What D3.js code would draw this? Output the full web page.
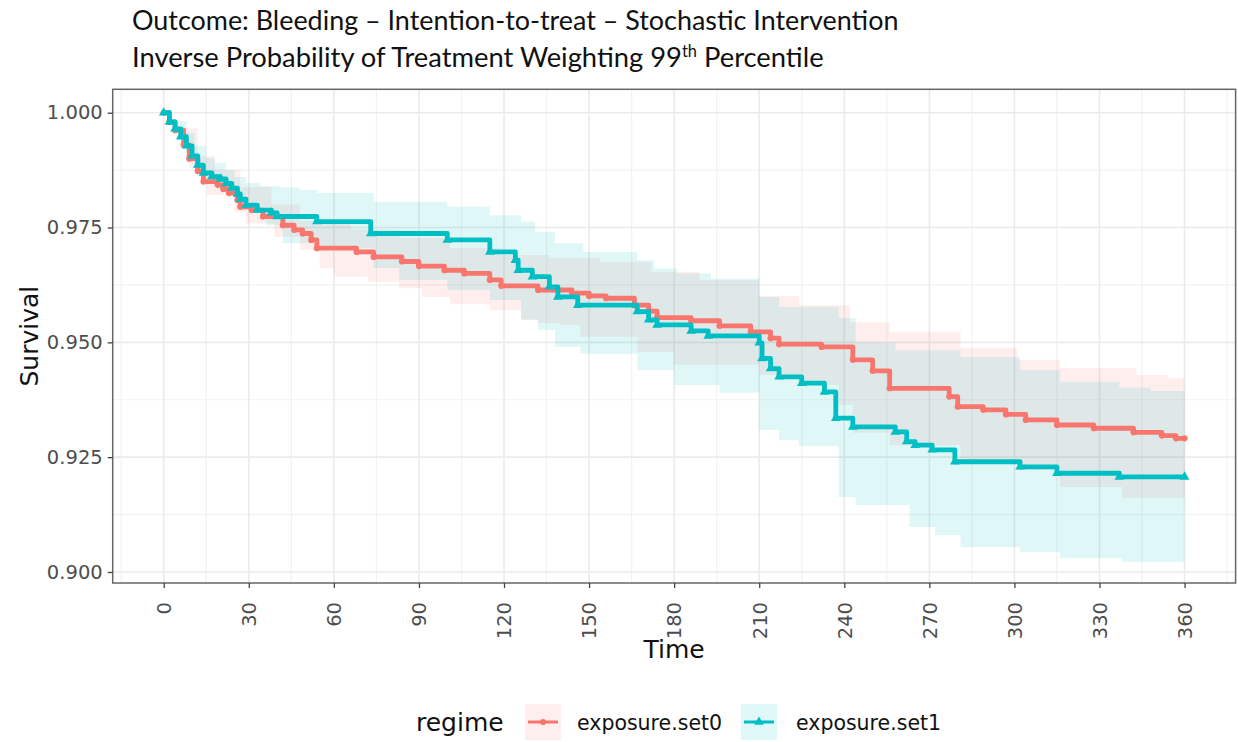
<!DOCTYPE html>
<html>
<head>
<meta charset="utf-8">
<script src="https://cdn.jsdelivr.net/npm/d3@7"></script>
<style>
  html, body { margin: 0; padding: 0; background: #ffffff; }
  svg { display: block; }
</style>
</head>
<body>
<svg id="chart" width="1238" height="742"></svg>
<script>
// ---- Data: step survival curves [day, survival] ----
const regimes = ["exposure.set0", "exposure.set1"];

const set0Surv = [[0,1.0000],[2,0.9980],[4,0.9962],[7,0.9930],[9,0.9900],[12,0.9873],[14,0.9850],[19,0.9843],[21,0.9834],[23,0.9825],[26,0.9810],[27,0.9795],[31,0.9788],[35,0.9774],[42,0.9755],[46,0.9745],[49,0.9737],[52,0.9723],[54,0.9705],[68,0.9697],[74,0.9686],[84,0.9676],[90,0.9666],[99,0.9657],[106,0.9650],[115,0.9636],[119,0.9623],[132,0.9614],[144,0.9607],[150,0.9601],[156,0.9596],[166,0.9581],[171,0.9568],[174,0.9554],[186,0.9547],[196,0.9536],[207,0.9523],[214,0.9509],[217,0.9496],[232,0.9490],[243,0.9462],[250,0.9438],[256,0.9400],[277,0.9382],[280,0.9360],[289,0.9353],[297,0.9343],[304,0.9331],[315,0.9320],[328,0.9313],[342,0.9304],[352,0.9297],[357,0.9291],[360,0.9291]];

const set0Lower = [[0,1.0000],[6,0.9951],[9,0.9880],[15,0.9821],[25,0.9784],[29,0.9759],[39,0.9730],[48,0.9701],[55,0.9662],[60,0.9643],[72,0.9632],[83,0.9618],[91,0.9599],[101,0.9583],[115,0.9570],[126,0.9549],[132,0.9542],[140,0.9538],[147,0.9512],[167,0.9479],[180,0.9451],[210,0.9429],[224,0.9407],[238,0.9364],[243,0.9303],[256,0.9276],[281,0.9237],[301,0.9222],[316,0.9185],[338,0.9161],[360,0.9161]];

const set0Upper = [[0,1.0000],[6,0.9966],[12,0.9905],[18,0.9876],[27,0.9838],[38,0.9800],[48,0.9765],[66,0.9745],[83,0.9727],[101,0.9705],[119,0.9690],[136,0.9684],[154,0.9675],[172,0.9653],[189,0.9636],[210,0.9601],[224,0.9581],[242,0.9544],[256,0.9522],[281,0.9488],[301,0.9462],[316,0.9444],[343,0.9429],[354,0.9422],[360,0.9422]];

const set1Surv = [[0,1.0000],[2,0.9980],[4,0.9965],[6,0.9948],[8,0.9928],[10,0.9906],[12,0.9886],[14,0.9869],[17,0.9861],[20,0.9856],[22,0.9846],[24,0.9836],[26,0.9823],[27,0.9812],[29,0.9799],[33,0.9788],[38,0.9782],[40,0.9774],[54,0.9763],[73,0.9737],[100,0.9723],[115,0.9697],[124,0.9679],[125,0.9657],[130,0.9643],[136,0.9621],[139,0.9599],[146,0.9581],[167,0.9567],[171,0.9549],[174,0.9538],[186,0.9525],[192,0.9514],[210,0.9499],[211,0.9465],[214,0.9443],[217,0.9425],[225,0.9411],[233,0.9392],[237,0.9335],[243,0.9316],[258,0.9305],[262,0.9284],[265,0.9276],[271,0.9266],[279,0.9240],[302,0.9229],[315,0.9215],[337,0.9207],[360,0.9207]];

const set1Lower = [[0,1.0000],[4,0.9958],[8,0.9914],[11,0.9875],[15,0.9847],[20,0.9827],[25,0.9806],[31,0.9788],[36,0.9755],[42,0.9716],[54,0.9705],[74,0.9662],[83,0.9636],[100,0.9614],[115,0.9592],[126,0.9549],[132,0.9527],[138,0.9490],[147,0.9475],[167,0.9440],[180,0.9407],[196,0.9390],[210,0.9309],[217,0.9287],[224,0.9274],[238,0.9163],[244,0.9146],[263,0.9098],[272,0.9080],[281,0.9054],[302,0.9043],[316,0.9030],[338,0.9022],[360,0.9022]];

const set1Upper = [[0,1.0000],[4,0.9982],[8,0.9956],[11,0.9928],[15,0.9901],[18,0.9891],[22,0.9875],[25,0.9860],[29,0.9847],[34,0.9840],[41,0.9837],[48,0.9832],[54,0.9825],[74,0.9806],[100,0.9795],[115,0.9777],[126,0.9763],[131,0.9741],[138,0.9716],[148,0.9697],[167,0.9679],[173,0.9661],[181,0.9650],[193,0.9639],[210,0.9599],[217,0.9577],[238,0.9553],[244,0.9499],[258,0.9483],[281,0.9468],[302,0.9440],[316,0.9414],[337,0.9401],[348,0.9394],[360,0.9394]];

const xTicks = [0,30,60,90,120,150,180,210,240,270,300,330,360];
const xMinor = [-15,15,45,75,105,135,165,195,225,255,285,315,345,375];
const yTicks = [0.900,0.925,0.950,0.975,1.000];
const yMinor = [0.9125,0.9375,0.9625,0.9875];

const titleLine1 = "Outcome: Bleeding \u2013 Intention-to-treat \u2013 Stochastic Intervention";
const titleLine2a = "Inverse Probability of Treatment Weighting 99";
const titleSup = "th";
const titleLine2b = " Percentile";

// ---- Layout ----
const colors = { "exposure.set0": "#F8766D", "exposure.set1": "#00BFC4" };
const panel = { left: 112.7, right: 1235.6, top: 89.3, bottom: 583 };
const svg = d3.select("#chart");
const sans = "'DejaVu Sans', Verdana, sans-serif";

const x = d3.scaleLinear().domain([-18, 378]).range([panel.left, panel.right]);
const y = d3.scaleLinear().domain([0.8976, 1.0051]).range([panel.bottom, panel.top]);

// grid
const grid = svg.append("g");
grid.selectAll(".xminor").data(xMinor).join("line")
  .attr("x1", d => x(d)).attr("x2", d => x(d))
  .attr("y1", panel.top).attr("y2", panel.bottom)
  .attr("stroke", "#F2F2F2").attr("stroke-width", 1.2);
grid.selectAll(".yminor").data(yMinor).join("line")
  .attr("y1", d => y(d)).attr("y2", d => y(d))
  .attr("x1", panel.left).attr("x2", panel.right)
  .attr("stroke", "#F2F2F2").attr("stroke-width", 1.2);
grid.selectAll(".xmajor").data(xTicks).join("line")
  .attr("x1", d => x(d)).attr("x2", d => x(d))
  .attr("y1", panel.top).attr("y2", panel.bottom)
  .attr("stroke", "#EBEBEB").attr("stroke-width", 1.6);
grid.selectAll(".ymajor").data(yTicks).join("line")
  .attr("y1", d => y(d)).attr("y2", d => y(d))
  .attr("x1", panel.left).attr("x2", panel.right)
  .attr("stroke", "#EBEBEB").attr("stroke-width", 1.6);

// step value lookup
function valueAt(series, t) {
  let v = series[0][1];
  for (const [d, s] of series) { if (d <= t) v = s; else break; }
  return v;
}
function bandRows(lower, upper) {
  const days = Array.from(new Set([...lower.map(d => d[0]), ...upper.map(d => d[0])])).sort((a, b) => a - b);
  return days.map(d => ({ day: d, lo: valueAt(lower, d), hi: valueAt(upper, d) }));
}

const series = [
  { name: "exposure.set0", surv: set0Surv, lower: set0Lower, upper: set0Upper, shape: d3.symbolCircle, size: 30 },
  { name: "exposure.set1", surv: set1Surv, lower: set1Lower, upper: set1Upper, shape: d3.symbolTriangle, size: 40 }
];

const area = d3.area().curve(d3.curveStepAfter)
  .x(d => x(d.day)).y0(d => y(d.lo)).y1(d => y(d.hi));
const line = d3.line().curve(d3.curveStepAfter)
  .x(d => x(d[0])).y(d => y(d[1]));

// confidence bands
svg.append("g").selectAll("path").data(series).join("path")
  .attr("d", s => area(bandRows(s.lower, s.upper)))
  .attr("fill", s => colors[s.name])
  .attr("fill-opacity", 0.12);

// survival lines with markers
series.forEach(s => {
  const g = svg.append("g");
  g.append("path").attr("d", line(s.surv))
    .attr("fill", "none").attr("stroke", colors[s.name])
    .attr("stroke-width", 4.8).attr("stroke-linejoin", "round");
  g.selectAll("path.mk").data(s.surv).join("path").attr("class", "mk")
    .attr("d", d3.symbol(s.shape, s.size))
    .attr("transform", d => `translate(${x(d[0])},${y(d[1])})`)
    .attr("fill", colors[s.name]);
});

// panel border
svg.append("rect")
  .attr("x", panel.left).attr("y", panel.top)
  .attr("width", panel.right - panel.left).attr("height", panel.bottom - panel.top)
  .attr("fill", "none").attr("stroke", "#666").attr("stroke-width", 1.5);

// axes
const yAxis = svg.append("g").attr("transform", `translate(${panel.left},0)`)
  .call(d3.axisLeft(y).tickValues(yTicks).tickFormat(d3.format(".3f")).tickSize(5).tickPadding(5));
yAxis.select(".domain").remove();
yAxis.selectAll(".tick line").attr("stroke", "#444").attr("stroke-width", 1.3);
yAxis.selectAll(".tick text").attr("fill", "#4D4D4D")
  .style("font-family", sans).style("font-size", "19.5px");

const xAxis = svg.append("g").attr("transform", `translate(0,${panel.bottom})`)
  .call(d3.axisBottom(x).tickValues(xTicks).tickFormat(d3.format("d")).tickSize(5));
xAxis.select(".domain").remove();
xAxis.selectAll(".tick line").attr("stroke", "#444").attr("stroke-width", 1.3);
xAxis.selectAll(".tick text").attr("fill", "#4D4D4D")
  .style("font-family", sans).style("font-size", "19.5px")
  .attr("y", 0).attr("x", -19).attr("dy", "0.35em")
  .attr("transform", "rotate(-90)").style("text-anchor", "end");

// axis titles
svg.append("text").text("Time")
  .attr("x", (panel.left + panel.right) / 2).attr("y", 658)
  .attr("text-anchor", "middle").style("font-family", sans).style("font-size", "25px").attr("fill", "#111");
svg.append("text").text("Survival")
  .attr("transform", `translate(38,${(panel.top + panel.bottom) / 2}) rotate(-90)`)
  .attr("text-anchor", "middle").style("font-family", sans).style("font-size", "25px").attr("fill", "#111");

// title (two lines, each fitted to its width)
const titleFont = "Lato, 'Open Sans', sans-serif";
const t1 = svg.append("text").attr("x", 132).attr("y", 30)
  .style("font-family", titleFont).style("font-size", "25px").attr("fill", "#111").text(titleLine1);
const t2 = svg.append("text").attr("x", 132).attr("y", 67)
  .style("font-family", titleFont).style("font-size", "25px").attr("fill", "#111");
t2.append("tspan").text(titleLine2a);
const sup = t2.append("tspan").text(titleSup).attr("dy", -10).style("font-size", "15px");
t2.append("tspan").text(titleLine2b).attr("dy", 10);
const fs1 = 25 * 767 / t1.node().getComputedTextLength();
t1.style("font-size", fs1 + "px");
const fs2 = 25 * 692 / t2.node().getComputedTextLength();
t2.style("font-size", fs2 + "px");
sup.style("font-size", (fs2 * 0.6) + "px");

// legend
const legend = svg.append("g");
legend.append("text").text("regime").attr("x", 416).attr("y", 731)
  .style("font-family", sans).style("font-size", "25px").attr("fill", "#111");
const keyX = [525, 741];
const labelX = [577, 796];
series.forEach((s, i) => {
  const kx = keyX[i], ky = 704, ks = 36;
  legend.append("rect").attr("x", kx).attr("y", ky).attr("width", ks).attr("height", ks)
    .attr("fill", colors[s.name]).attr("fill-opacity", 0.12);
  legend.append("line").attr("x1", kx + 3).attr("x2", kx + ks - 3)
    .attr("y1", ky + ks / 2).attr("y2", ky + ks / 2)
    .attr("stroke", colors[s.name]).attr("stroke-width", 3);
  legend.append("path").attr("d", d3.symbol(s.shape, s.size))
    .attr("transform", `translate(${kx + ks / 2},${ky + ks / 2})`).attr("fill", colors[s.name]);
  legend.append("text").text(s.name).attr("x", labelX[i]).attr("y", 730)
    .style("font-family", sans).style("font-size", "20.5px").attr("fill", "#111");
});
</script>
</body>
</html>
